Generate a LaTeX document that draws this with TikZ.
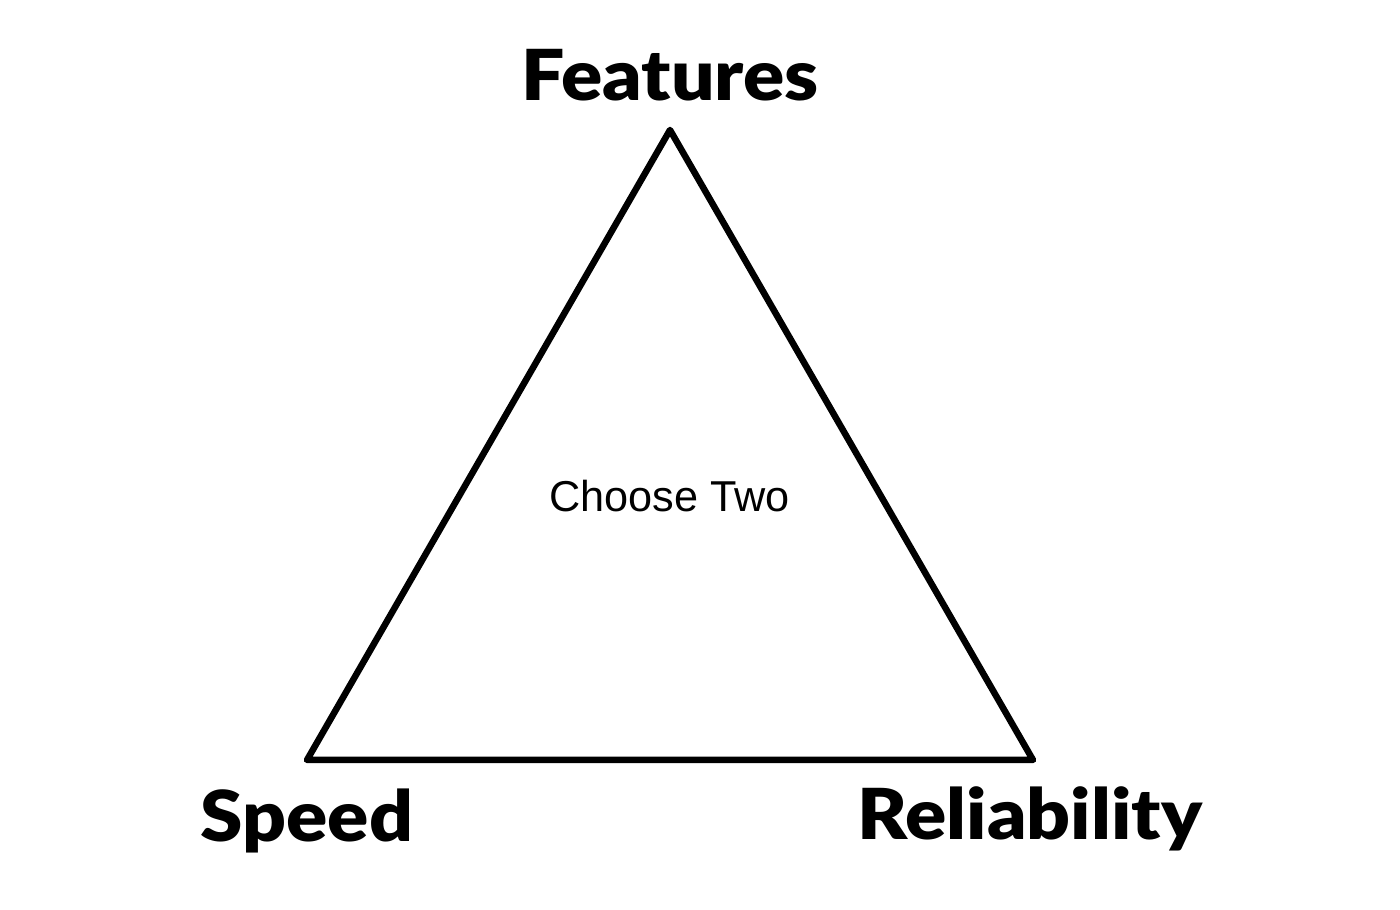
\documentclass[tikz,border=0pt]{standalone}
\usepackage{fontspec}
\newfontfamily\labelfont[FakeStretch=1.09]{Lato Black}
\newfontfamily\bodyfont{Liberation Sans}
\begin{document}
\begin{tikzpicture}[
  vlabel/.style={font=\labelfont\fontsize{20}{23}\selectfont, anchor=base, inner sep=0pt},
  side/.style={line width=1.85pt, line join=round, line cap=round}
]
\useasboundingbox (0,0) rectangle (14,9.1);
\coordinate (top) at (6.70,7.80);
\coordinate (bl) at (3.07,1.50);
\coordinate (br) at (10.33,1.50);
\draw[side] (top) -- (bl) -- (br) -- cycle;
\node[vlabel] (features) at (6.70,8.09) {Features};
\node[vlabel] (speed) at (3.07,0.68) {Speed};
\node[vlabel] (reliability) at (10.30,0.70) {Reliability};
\node[font=\bodyfont\fontsize{12.3}{14}\selectfont, anchor=base, inner sep=0pt] (choose) at (6.695,3.98) {Choose Two};
\end{tikzpicture}
\end{document}
